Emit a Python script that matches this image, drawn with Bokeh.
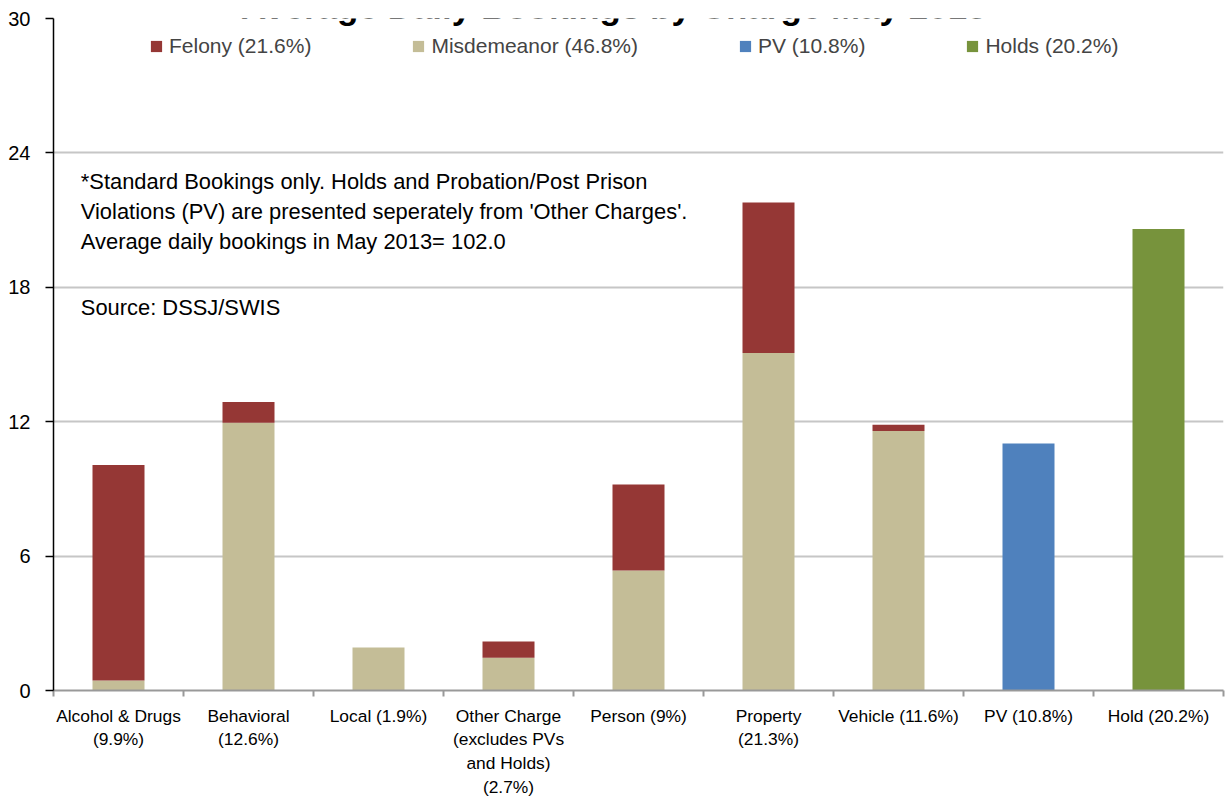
from bokeh.plotting import figure
from bokeh.models import Range1d, FixedTicker, Label, Legend, LegendItem
from bokeh.embed import file_html
from bokeh.resources import INLINE

# ---- data ----
categories = [
    "Alcohol & Drugs\n(9.9%)",
    "Behavioral\n(12.6%)",
    "Local (1.9%)",
    "Other Charge\n(excludes PVs\nand Holds)\n(2.7%)",
    "Person (9%)",
    "Property\n(21.3%)",
    "Vehicle (11.6%)",
    "PV (10.8%)",
    "Hold (20.2%)",
]
misdemeanor = [0.45, 11.95, 1.92, 1.46, 5.36, 15.07, 11.59, 0.0, 0.0]
felony = [9.62, 0.93, 0.0, 0.73, 3.84, 6.72, 0.27, 0.0, 0.0]
pv = [0.0, 0.0, 0.0, 0.0, 0.0, 0.0, 0.0, 11.03, 0.0]
holds = [0.0, 0.0, 0.0, 0.0, 0.0, 0.0, 0.0, 0.0, 20.6]
series_names = ["Misdemeanor (46.8%)", "Felony (21.6%)", "PV (10.8%)", "Holds (20.2%)"]
y_ticks = [0, 6, 12, 18, 24, 30]
title_text = "Average Daily Bookings by Charge May 2013"
note_text = ("*Standard Bookings only. Holds and Probation/Post Prison\n"
             "Violations (PV) are presented seperately from 'Other Charges'.\n"
             "Average daily bookings in May 2013= 102.0")
source_text = "Source: DSSJ/SWIS"

colors = {"mis": "#C4BD97", "fel": "#953735", "pv": "#4F81BD", "hold": "#77933C"}
FONT = "Liberation Sans"

xs = list(range(1, len(categories) + 1))
data = dict(x=xs, mis=misdemeanor, fel=felony, pv=pv, hold=holds)

p = figure(width=1225, height=803, output_backend="svg", toolbar_location=None,
           x_range=Range1d(0.5, len(categories) + 0.5), y_range=Range1d(0, 30),
           min_border_left=53, min_border_right=2, min_border_top=18,
           min_border_bottom=113)
p.outline_line_color = None

renderers = p.vbar_stack(["mis", "fel", "pv", "hold"], x="x", width=0.4, source=data,
                         color=[colors["mis"], colors["fel"], colors["pv"], colors["hold"]],
                         line_color=None)

# axes
p.xaxis.ticker = FixedTicker(ticks=xs, minor_ticks=[i + 0.5 for i in range(0, len(categories) + 1)])
p.xaxis.major_label_overrides = {x: c for x, c in zip(xs, categories)}
p.xaxis.major_tick_line_color = None
p.xaxis.major_tick_out = 0
p.xaxis.major_tick_in = 0
p.xaxis.minor_tick_line_color = "#999999"
p.xaxis.minor_tick_line_width = 2
p.xaxis.minor_tick_out = 6
p.xaxis.minor_tick_in = 0
p.xaxis.axis_line_color = "#999999"
p.xaxis.axis_line_width = 2
p.xaxis.major_label_text_font = FONT
p.xaxis.major_label_text_font_size = "17.4px"
p.xaxis.major_label_text_line_height = 1.19
p.xaxis.major_label_text_color = "black"
p.xaxis.major_label_standoff = 9

p.yaxis.ticker = FixedTicker(ticks=y_ticks)
p.yaxis.minor_tick_line_color = None
p.yaxis.axis_line_color = "black"
p.yaxis.axis_line_width = 1.5
p.yaxis.major_tick_line_color = "black"
p.yaxis.major_tick_line_width = 1.5
p.yaxis.major_tick_out = 8
p.yaxis.major_tick_in = 0
p.yaxis.major_label_text_font = FONT
p.yaxis.major_label_text_font_size = "20px"
p.yaxis.major_label_text_color = "black"
p.yaxis.major_label_standoff = 15

p.xgrid.grid_line_color = None
p.ygrid.ticker = FixedTicker(ticks=y_ticks)
p.ygrid.grid_line_color = "#C6C6C6"
p.ygrid.grid_line_width = 2

# legend
items = [LegendItem(label=series_names[1], renderers=[renderers[1]]),
         LegendItem(label=series_names[0], renderers=[renderers[0]]),
         LegendItem(label=series_names[2], renderers=[renderers[2]]),
         LegendItem(label=series_names[3], renderers=[renderers[3]])]
legend = Legend(items=items, orientation="horizontal", location=(96, 632),
                padding=0, margin=0, spacing=100, glyph_width=14, glyph_height=14,
                label_standoff=6, label_text_font=FONT,
                label_text_font_size="21px", border_line_color=None,
                background_fill_alpha=0, label_height=22)
p.add_layout(legend, "center")

# texts
p.add_layout(Label(x=4.81, y=30.53, text=title_text, text_align="center",
                   text_baseline="alphabetic", text_font=FONT,
                   text_font_style="bold", text_font_size="35px", text_color="black"))
p.add_layout(Label(x=0.71, y=23.3, text=note_text, text_align="left",
                   text_baseline="top", text_font=FONT,
                   text_font_size="21.9px", text_color="black", text_line_height=1.2))
p.add_layout(Label(x=0.71, y=17.65, text=source_text, text_align="left",
                   text_baseline="top", text_font=FONT,
                   text_font_size="21.9px", text_color="black"))

open("out.html", "w").write(file_html(p, INLINE))
